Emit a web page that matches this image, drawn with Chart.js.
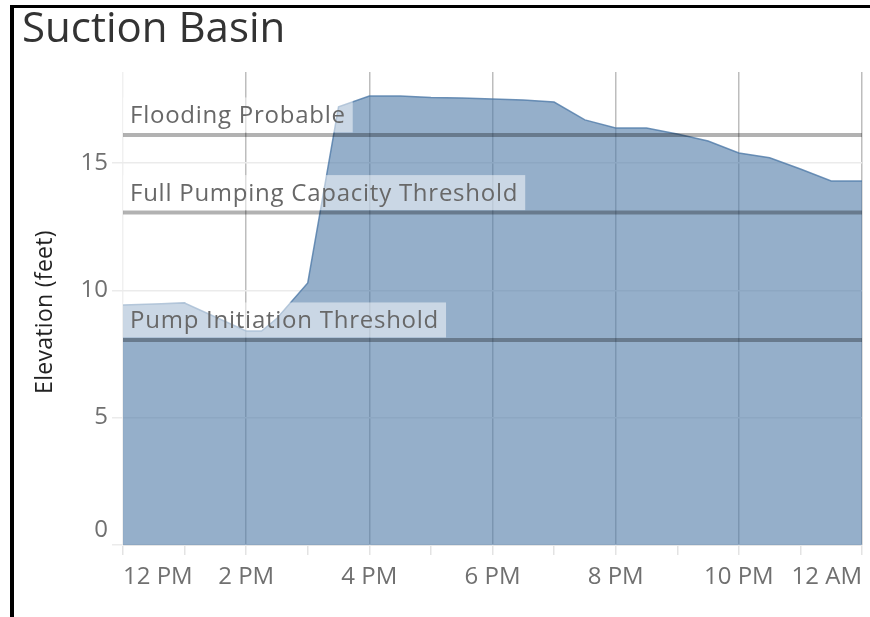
<!DOCTYPE html>
<html>
<head>
<meta charset="utf-8">
<script src="https://cdn.jsdelivr.net/npm/chart.js@4.4.1/dist/chart.umd.min.js"></script>
<style>
  html, body { margin: 0; padding: 0; background: #fff; }
  canvas { display: block; }
</style>
</head>
<body>
<canvas id="chart" width="870" height="617"></canvas>
<script>
// hours since midnight (12 = noon, 24 = midnight)
const times = [12, 12.5, 13, 13.5, 14, 14.25, 14.5, 15, 15.5, 16, 16.5, 17, 17.5, 18,
  18.5, 19, 19.5, 20, 20.5, 21, 21.5, 22, 22.5, 23, 23.5, 24]
const elevation = [9.42, 9.46, 9.5, 8.95, 8.4, 8.4, 8.9, 10.29, 17.2, 17.63, 17.63, 17.57, 17.55, 17.51,
  17.47, 17.39, 16.69, 16.37, 16.37, 16.14, 15.86, 15.39, 15.2, 14.76, 14.29, 14.29]

const thresholdNames = ['Flooding Probable', 'Full Pumping Capacity Threshold', 'Pump Initiation Threshold']
const thresholdValues = [16.1, 13.05, 8.05]

const labelHours = [12, 14, 16, 18, 20, 22, 24]
const labelTexts = ['12 PM', '2 PM', '4 PM', '6 PM', '8 PM', '10 PM', '12 AM']

const FONT = '"Open Sans", sans-serif'
Chart.defaults.font.family = FONT

const datasets = thresholdValues.map((v, i) => ({
  label: thresholdNames[i],
  data: [{ x: times[0], y: v }, { x: times[times.length - 1], y: v }],
  borderColor: 'rgba(0,0,0,0.3)',
  borderWidth: 4,
  pointRadius: 0,
  fill: false,
  order: 0
}))

datasets.push({
  label: 'Elevation',
  data: times.map((t, i) => ({ x: t, y: elevation[i] })),
  borderColor: 'rgba(78,121,167,0.8)',
  borderWidth: 1.5,
  backgroundColor: 'rgba(78,121,167,0.6)',
  pointRadius: 0,
  tension: 0,
  fill: 'origin',
  order: 1
})

const decor = {
  id: 'decor',
  beforeDraw(chart) {
    const ctx = chart.ctx
    ctx.save()
    ctx.fillStyle = '#fff'
    ctx.fillRect(0, 0, chart.width, chart.height)
    ctx.fillStyle = '#000'
    ctx.fillRect(10, 5, 4, chart.height - 5)
    ctx.fillRect(10, 5, chart.width - 10, 3)
    ctx.restore()
  },
  afterDatasetsDraw(chart) {
    const ctx = chart.ctx
    const area = chart.chartArea
    const y = chart.scales.y
    ctx.save()
    ctx.font = '24px ' + FONT
    ctx.letterSpacing = '0.75px'
    thresholdValues.forEach((v, i) => {
      const py = y.getPixelForValue(v)
      const w = ctx.measureText(thresholdNames[i]).width
      const bottom = py - 2.5
      ctx.fillStyle = 'rgba(255,255,255,0.5)'
      ctx.fillRect(area.left, bottom - 35, w + 14, 35)
      ctx.fillStyle = '#686868'
      ctx.textBaseline = 'alphabetic'
      ctx.fillText(thresholdNames[i], area.left + 7, bottom - 9)
    })
    ctx.restore()
  },
  afterDraw(chart) {
    const ctx = chart.ctx
    ctx.save()
    ctx.fillStyle = '#333'
    ctx.font = '42px ' + FONT
    ctx.textBaseline = 'alphabetic'
    ctx.fillText('Suction Basin', 22, 42)
    ctx.translate(45, 312)
    ctx.rotate(-Math.PI / 2)
    ctx.fillStyle = '#222'
    ctx.font = '500 23px ' + FONT
    ctx.letterSpacing = '0.3px'
    ctx.textAlign = 'center'
    ctx.textBaseline = 'middle'
    ctx.fillText('Elevation (feet)', 0, 0)
    ctx.restore()
  }
}

new Chart(document.getElementById('chart'), {
  type: 'line',
  data: { datasets: datasets },
  options: {
    responsive: false,
    animation: false,
    layout: { padding: { top: 72, right: 7, left: 0, bottom: 0 } },
    plugins: { legend: { display: false }, tooltip: { enabled: false } },
    scales: {
      x: {
        type: 'linear',
        min: 12,
        max: 24,
        z: 1,
        afterFit: (scale) => { scale.height = 72 },
        border: { display: true, color: '#e6e6e6' },
        grid: {
          color: (c) => {
            const v = c.tick && c.tick.value
            if (v === 12) return 'rgba(0,0,0,0.06)'
            return labelHours.includes(v) ? 'rgba(0,0,0,0.26)' : 'rgba(0,0,0,0)'
          },
          tickColor: '#e3e3e3',
          tickLength: 10,
          lineWidth: 1.5
        },
        ticks: {
          stepSize: 1,
          autoSkip: false,
          maxRotation: 0,
          align: 'inner',
          padding: 8,
          color: '#707070',
          font: { size: 24 },
          callback: (v) => {
            const i = labelHours.indexOf(v)
            return i >= 0 ? labelTexts[i] : ''
          }
        }
      },
      y: {
        min: 0,
        max: 18.57,
        afterFit: (scale) => { scale.width = 123 },
        border: { display: false },
        grid: { color: '#ebebeb', tickColor: '#ebebeb', tickLength: 11, lineWidth: 1.5 },
        ticks: {
          stepSize: 5,
          includeBounds: false,
          padding: 4,
          color: '#707070',
          font: { size: 24 },
          callback: (v) => (v === 0 ? ['0', ''] : String(v))
        }
      }
    }
  },
  plugins: [decor]
})
</script>
</body>
</html>
